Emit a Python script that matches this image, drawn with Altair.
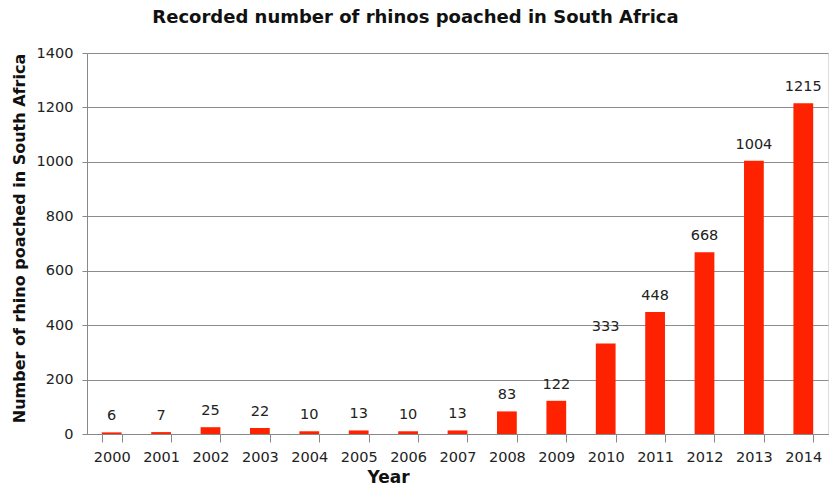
import altair as alt
import pandas as pd

years = ["2000", "2001", "2002", "2003", "2004", "2005", "2006", "2007",
         "2008", "2009", "2010", "2011", "2012", "2013", "2014"]
poached = [6, 7, 25, 22, 10, 13, 10, 13, 83, 122, 333, 448, 668, 1004, 1215]

df = pd.DataFrame({"Year": years, "Poached": poached})

FONT = "DejaVu Sans"

x = alt.X("Year:N", sort=years,
          scale=alt.Scale(paddingInner=0.6, paddingOuter=0.3),
          axis=alt.Axis(title="Year", labelAngle=0, tickBand="extent",
                        tickSize=8, labelPadding=8, labelFontSize=14.5,
                        labelColor="#222222", labelFont=FONT,
                        domainColor="#888888", tickColor="#888888",
                        titleFont=FONT, titleFontSize=17, titleFontWeight="bold",
                        titleColor="#111111", titleX=301, titleY=48,
                        titleBaseline="alphabetic", grid=False))

y = alt.Y("Poached:Q",
          scale=alt.Scale(domain=[0, 1400], nice=False),
          axis=alt.Axis(title="Number of rhino  poached in South Africa",
                        values=list(range(0, 1401, 200)), format="d",
                        tickSize=5, labelPadding=9, labelFontSize=14.5,
                        labelColor="#222222", labelFont=FONT,
                        domainColor="#888888", tickColor="#888888",
                        gridColor="#8c8c8c", gridWidth=1,
                        titleFont=FONT, titleFontSize=16, titleFontWeight="bold",
                        titleColor="#111111", titleX=-63, titleY=185,
                        titleAlign="center", titleAngle=270,
                        titleBaseline="alphabetic"))

base = alt.Chart(df)

bars = base.mark_bar(color="#FF2200").encode(x=x, y=y)

labels = base.mark_text(baseline="bottom", dy=-9, fontSize=14.5, font=FONT,
                        color="#222222").encode(
    x=alt.X("Year:N", sort=years),
    y="Poached:Q",
    text="Poached:Q",
)

chart = (bars + labels).properties(
    width=741,
    height=381,
    title=alt.TitleParams("Recorded number of rhinos poached in South Africa",
                          font=FONT, fontSize=18, fontWeight="bold",
                          color="#111111", anchor="middle", offset=18, dx=-42),
    autosize=alt.AutoSizeParams(type="none"),
    padding={"left": 87, "top": 53, "right": 2, "bottom": 52},
).configure_view(stroke=None).configure(background="white")

chart.save("out.html", embed_options={"renderer": "svg", "actions": False})
